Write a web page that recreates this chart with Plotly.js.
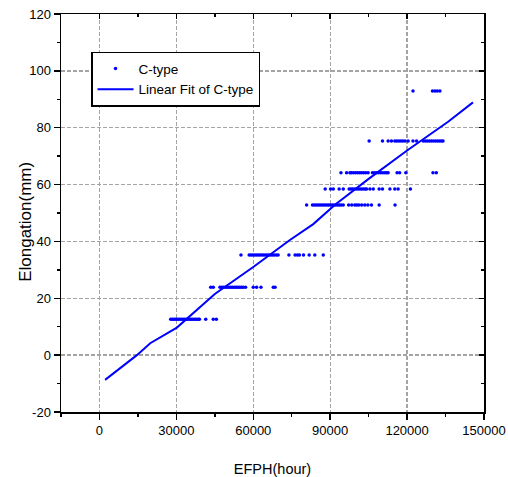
<!DOCTYPE html>
<html>
<head>
<meta charset="utf-8">
<script src="https://cdn.plot.ly/plotly-3.0.1.min.js"></script>
<style>
html,body{margin:0;padding:0;background:#fff;}
#chart{width:508px;height:477px;}
</style>
</head>
<body>
<div id="chart"></div>
<script>
// Measured data: each elongation level with its EFPH values
const level1 = 12.6;
const efph1 = [27800,28400,29000,29600,30200,30800,31400,32000,32600,33200,33800,34400,35000,35600,36200,36800,37400,38000,38600,39000,41450,44400,45600];
const level2 = 23.9;
const efph2 = [43400,44400,47000,47700,48400,49100,49800,50500,51200,51900,52600,53300,54000,54700,55400,56100,57000,60000,61300,63000,67800,68500];
const level3 = 35.2;
const efph3 = [55200,58400,59100,59800,60500,61200,61900,62600,63300,64000,64700,65400,66100,66800,67500,68200,69000,69700,73900,76300,77200,78000,79600,81800,84000,87300];
const level4 = 52.8;
const efph4 = [80800,83100,83800,84500,85200,85900,86600,87300,88000,88700,89400,90100,90800,91500,92200,92900,93600,94300,95100,97200,98400,99600,100400,101200,102300,103500,104700,106100,109100,115300];
const level5 = 58.4;
const efph5 = [88050,90150,91200,93500,95100,97400,98100,98800,99500,100200,100900,101600,102300,103000,103700,104200,105500,106800,109100,110400,113300,115200,116500,121300];
const level6 = 64.2;
const efph6 = [94200,96400,97700,98300,99100,99900,100700,101500,102300,103100,103900,104800,106500,107300,108100,108900,109700,110500,111300,112000,112600,116100,117100,119500,130100,131400];
const level7 = 75.3;
const efph7 = [105200,110400,112600,113900,115200,116000,116800,117600,118400,119200,120400,122300,123700,126300,127100,127900,128700,129500,130300,131100,131900,132700,133400,134000];
const level8 = 92.9;
const efph8 = [122300,129900,130900,131800,132800];

// Linear fit line
const fitX = [2200,14600,19800,30200,45000,60000,74300,83400,92000,105000,120000,136000,145700];
const fitY = [-8.7,0.0,4.2,9.7,21.5,31.0,40.5,46.1,53.0,62.0,72.0,82.1,88.9];

const xTickVals = [0,30000,60000,90000,120000,150000];
const yTickVals = [-20,0,20,40,60,80,100,120];
const xTitle = 'EFPH(hour)';
const yTitle = 'Elongation(mm)';

const levels = [level1,level2,level3,level4,level5,level6,level7,level8];
const groups = [efph1,efph2,efph3,efph4,efph5,efph6,efph7,efph8];
const scX = [], scY = [];
groups.forEach((g,i)=>{ g.forEach(v=>{ scX.push(v); scY.push(levels[i]); }); });

const FONT = 'Liberation Sans, Arial, sans-serif';
const GRID = '#a4a4a4';

const traces = [
  {x: scX, y: scY, type:'scatter', mode:'markers', name:'C-type',
   marker:{color:'#0000ff', size:3.5, symbol:'circle'}, cliponaxis:false},
  {x: fitX, y: fitY, type:'scatter', mode:'lines', name:'Linear Fit of C-type',
   line:{color:'#0000ff', width:2}},
  {x:[0], y:[0], xaxis:'x2', yaxis:'y2', type:'scatter', mode:'markers',
   marker:{opacity:0}, showlegend:false, hoverinfo:'skip'}
];

const layout = {
  width:508, height:477,
  margin:{l:61, r:24, t:14, b:65},
  paper_bgcolor:'#fff', plot_bgcolor:'#fff',
  font:{family:FONT, color:'#000', size:12},
  showlegend:true,
  legend:{x:0.071, y:0.905, xanchor:'left', yanchor:'top',
    bordercolor:'#000', borderwidth:1.5, bgcolor:'#fff',
    font:{family:FONT, size:13.5, color:'#000'}, itemwidth:36, tracegroupgap:2},
  annotations:[{text:yTitle, xref:'paper', yref:'paper', x:-0.084, y:0.479,
    xanchor:'center', yanchor:'middle', textangle:-90, showarrow:false,
    font:{family:FONT, size:17, color:'#000'}}],
  xaxis:{range:[-15000,150000], tickvals:xTickVals, ticktext:xTickVals.map(String),
    showgrid:true, gridcolor:GRID, griddash:'4px,2px', gridwidth:1.3,
    zeroline:false, showline:true, linecolor:'#000', linewidth:1.5,
    ticks:'outside', ticklen:6, tickwidth:1.5, tickcolor:'#000',
    minor:{dtick:15000, tick0:0, ticks:'outside', ticklen:3, tickcolor:'#000', showgrid:false},
    tickfont:{family:FONT, size:13},
    title:{text:xTitle, font:{family:FONT, size:14.5}, standoff:27}},
  yaxis:{range:[-20,120], tickvals:yTickVals, ticktext:yTickVals.map(String),
    showgrid:true, gridcolor:GRID, griddash:'4px,2px', gridwidth:1.3,
    zeroline:false, showline:true, linecolor:'#000', linewidth:1.5,
    ticks:'outside', ticklen:6, tickwidth:1.5, tickcolor:'#000',
    minor:{dtick:10, tick0:0, ticks:'outside', ticklen:3, tickcolor:'#000', showgrid:false},
    tickfont:{family:FONT, size:13}},
  xaxis2:{range:[-15000,150000], overlaying:'x', side:'top', tickvals:xTickVals,
    showticklabels:false, showgrid:false, zeroline:false, showline:true,
    linecolor:'#000', linewidth:1.5, ticks:'inside', ticklen:5, tickwidth:1.5, tickcolor:'#000',
    minor:{dtick:15000, tick0:0, ticks:'inside', ticklen:3, tickcolor:'#000', showgrid:false}},
  yaxis2:{range:[-20,120], overlaying:'y', side:'right', tickvals:yTickVals,
    showticklabels:false, showgrid:false, zeroline:false, showline:true,
    linecolor:'#000', linewidth:1.5, ticks:'inside', ticklen:5, tickwidth:1.5, tickcolor:'#000',
    minor:{dtick:10, tick0:0, ticks:'inside', ticklen:3, tickcolor:'#000', showgrid:false}}
};

Plotly.newPlot('chart', traces, layout, {displayModeBar:false, staticPlot:true});
</script>
</body>
</html>
